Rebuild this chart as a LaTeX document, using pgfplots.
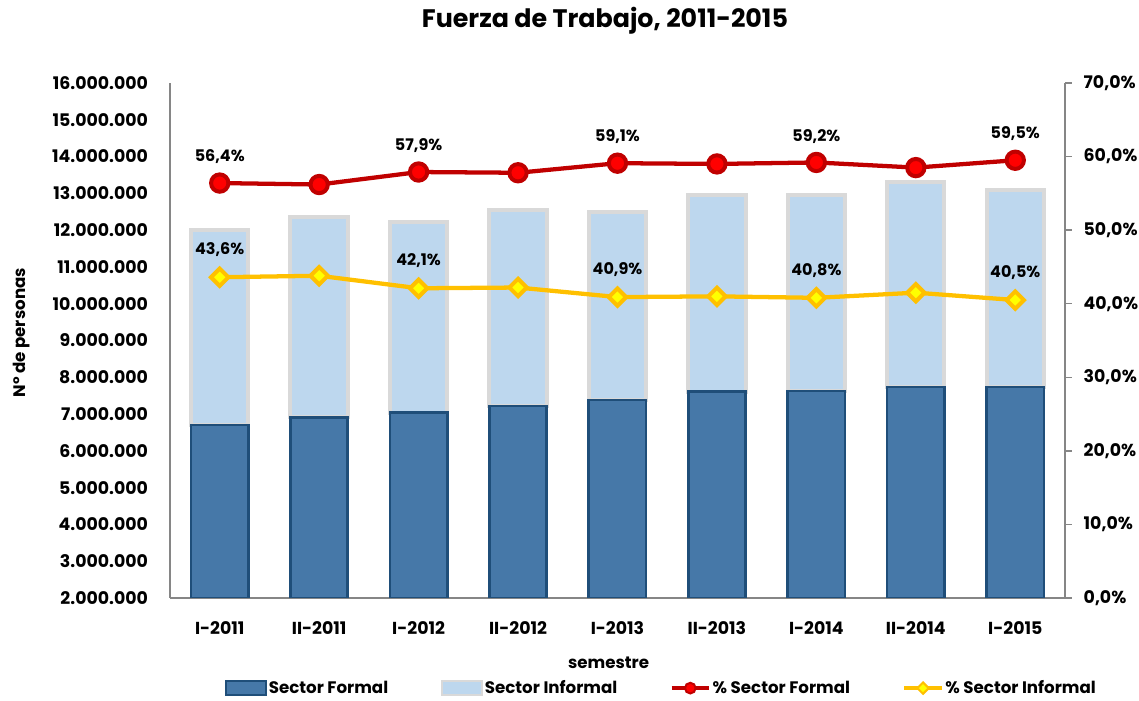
\documentclass[border=0pt]{standalone}
\usepackage{pgfplots}
\pgfplotsset{compat=1.18}
\usepackage{fontspec}
\setmainfont{Poppins}
\definecolor{formal}{RGB}{70,120,168}
\definecolor{formaledge}{RGB}{31,78,121}
\definecolor{informal}{RGB}{189,215,238}
\definecolor{informaledge}{RGB}{217,217,217}
\definecolor{redline}{RGB}{192,0,0}
\definecolor{redfill}{RGB}{255,0,0}
\definecolor{yelline}{RGB}{255,192,0}
\definecolor{yelfill}{RGB}{255,255,0}
\definecolor{axisgray}{RGB}{134,134,134}
\newcommand{\tf}{\fontsize{13}{15}\selectfont\bfseries}
\newcommand{\lf}{\fontsize{12.5}{14}\selectfont\bfseries}
\newcommand{\df}{\fontsize{12}{14}\selectfont\bfseries}
\pgfplotsset{
  linelegend/.style={legend image code/.code={\draw[##1, sharp plot, mark repeat=2, mark phase=2] plot coordinates {(0pt,0pt) (14pt,0pt) (28pt,0pt)};}},
  formallegend/.style={legend image code/.code={\draw[fill=formal, draw=formaledge, line width=1.5pt] (0pt,-5pt) rectangle (30pt,5pt);}},
  informallegend/.style={legend image code/.code={\draw[fill=informal, draw=informaledge, line width=1.5pt] (0pt,-5pt) rectangle (30pt,5pt);}},
}
\begin{document}
\begin{tikzpicture}[font=\bfseries]
\path[use as bounding box] (0,0) rectangle (854.25pt,525pt);
\begin{axis}[
  at={(127.5pt,76.5pt)}, anchor=south west,
  width=671.25pt, height=386.25pt, scale only axis,
  ybar stacked, bar width=43pt,
  xmin=-0.5, xmax=8.5,
  ymin=2000000, ymax=16000000,
  ytick={2000000,3000000,4000000,5000000,6000000,7000000,8000000,9000000,10000000,11000000,12000000,13000000,14000000,15000000,16000000},
  scaled y ticks=false,
  yticklabel={\pgfmathprintnumber[fixed,precision=0,1000 sep={.}]{\tick}},
  /pgf/number format/assume math mode=true,
  xtick={0,1,2,3,4,5,6,7,8},
  xticklabels={I-2011,II-2011,I-2012,II-2012,I-2013,II-2013,I-2014,II-2014,I-2015},
  axis y line*=left, axis x line*=bottom,
  axis line style={axisgray, line width=1pt, -},
  major tick length=0pt,
  ticklabel style={font=\tf},
  yticklabel style={xshift=-13pt},
  xticklabel style={yshift=-14pt},
  xlabel={semestre},
  xlabel style={at={(axis description cs:0.49,-0.126)}, anchor=center, font=\lf},
  ylabel={Nº de personas},
  ylabel style={at={(axis description cs:-0.1654,0.515)}, anchor=center, font=\lf},
  title={Fuerza de Trabajo, 2011-2015},
  title style={at={(axis description cs:0.486,1.105)}, anchor=center, font=\fontsize{19}{22}\selectfont\bfseries},
  legend columns=4,
  legend style={at={(axis description cs:0.549,-0.175)}, anchor=center, draw=none, fill=none,
    font=\lf, /tikz/every even column/.append style={column sep=38pt},
    nodes={inner sep=1.5pt}},
]
\addplot[fill=formal, draw=formaledge, line width=2pt, formallegend]
  coordinates {(0,6700000) (1,6910000) (2,7040000) (3,7220000) (4,7380000) (5,7610000) (6,7630000) (7,7740000) (8,7740000)};
\addlegendentry{Sector Formal}
\addplot[fill=informal, draw=informaledge, line width=3pt, informallegend]
  coordinates {(0,5300000) (1,5450000) (2,5190000) (3,5340000) (4,5120000) (5,5340000) (6,5320000) (7,5570000) (8,5360000)};
\addlegendentry{Sector Informal}
\addlegendimage{redline, line width=2.5pt, mark=*, mark size=4pt, mark options={fill=redfill, draw=redline, line width=1.5pt}, linelegend}
\addlegendentry{\% Sector Formal}
\addlegendimage{yelline, line width=2.5pt, mark=square*, mark size=3pt, mark options={fill=yelfill, draw=yelline, line width=1.5pt, rotate=45}, linelegend}
\addlegendentry{\% Sector Informal}
\end{axis}
\begin{axis}[
  at={(127.5pt,76.5pt)}, anchor=south west,
  width=671.25pt, height=386.25pt, scale only axis,
  xmin=-0.5, xmax=8.5, ymin=0, ymax=70,
  axis y line*=right, axis x line=none,
  axis line style={axisgray, line width=1pt, -},
  ytick={0,10,20,30,40,50,60,70},
  yticklabel={\pgfmathprintnumber[fixed,fixed zerofill,precision=1,use comma]{\tick}\%},
  /pgf/number format/assume math mode=true,
  tick align=outside, major tick length=5pt,
  ytick style={axisgray, line width=1pt},
  yticklabel style={font=\tf, xshift=5.5pt},
  clip=false,
]
\addplot[redline, line width=3.2pt, mark=*, mark size=6.5pt, mark options={fill=redfill, draw=redline, line width=3pt}]
  coordinates {(0,56.4) (1,56.2) (2,57.9) (3,57.8) (4,59.1) (5,59.0) (6,59.2) (7,58.5) (8,59.5)};
\addplot[yelline, line width=3.2pt, mark=square*, mark size=4.6pt, mark options={fill=yelfill, draw=yelline, line width=3pt, rotate=45}]
  coordinates {(0,43.6) (1,43.8) (2,42.1) (3,42.2) (4,40.9) (5,41.0) (6,40.8) (7,41.5) (8,40.5)};
\addplot[draw=none, mark=none, point meta=y,
  nodes near coords={\pgfmathprintnumber[fixed,fixed zerofill,precision=1,use comma]{\pgfplotspointmeta}\%},
  nodes near coords style={font=\df, anchor=south, yshift=11pt}]
  coordinates {(0,56.4) (2,57.9) (4,59.1) (6,59.2) (8,59.5)};
\addplot[draw=none, mark=none, point meta=y,
  nodes near coords={\pgfmathprintnumber[fixed,fixed zerofill,precision=1,use comma]{\pgfplotspointmeta}\%},
  nodes near coords style={font=\df, anchor=south, yshift=12pt}]
  coordinates {(0,43.6) (2,42.1) (4,40.9) (6,40.8) (8,40.5)};
\end{axis}
\end{tikzpicture}
\end{document}
